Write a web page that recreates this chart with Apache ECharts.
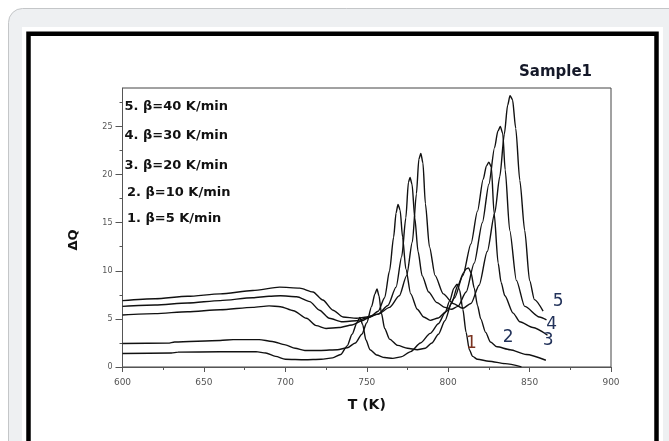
<!DOCTYPE html>
<html>
<head>
<meta charset="utf-8">
<script src="https://cdn.jsdelivr.net/npm/echarts@6/dist/echarts.min.js"></script>
<style>
  html, body { margin: 0; padding: 0; background: #fff; }
  #chart { width: 669px; height: 441px; }
</style>
</head>
<body>
<div id="chart"></div>
<script>
// ΔQ vs T (K) curves, [T, ΔQ]
const curve1 = [[600,1.4],[630,1.45],[634,1.55],[660,1.58],[682,1.6],[688,1.45],[694,1.1],[700,0.8],[712,0.75],[722,0.8],[729,0.95],[734,1.3],[738,2.2],[741,3.4],[744,4.6],[745.8,5.15],[747.5,4.4],[749.5,2.8],[752,1.8],[756,1.25],[761,0.98],[766,0.9],[771,1.05],[777,1.6],[783,2.5],[789,3.5],[794,4.5],[798,5.6],[801,6.9],[803.5,8.2],[805.5,8.6],[807,8.0],[809,6.0],[811,3.6],[813,1.8],[815,1.1],[818,0.8],[825,0.6],[835,0.35],[845,0.02]]
const curve2 = [[600,2.45],[628,2.48],[632,2.6],[660,2.75],[668,2.85],[684,2.85],[692,2.65],[700,2.3],[706,1.95],[712,1.72],[722,1.72],[732,1.8],[738,2.0],[743,2.5],[747,3.4],[750,4.6],[753,6.3],[755,7.6],[756.3,8.1],[757.5,7.4],[759,5.6],[761,4.0],[764,2.9],[769,2.25],[775,1.95],[781,1.8],[786,1.95],[790,2.5],[794,3.4],[798,4.8],[802,6.6],[806,8.5],[809.5,9.8],[811,10.2],[812.5,10.3],[814,9.8],[816,8.2],[818,6.4],[820,5.0],[823,3.6],[826,2.6],[830,2.1],[838,1.8],[848,1.3],[860,0.7]]
const curve3 = [[600,5.4],[620,5.55],[640,5.75],[660,5.95],[680,6.2],[690,6.35],[697,6.27],[705,5.85],[713,5.06],[719,4.3],[725,4.0],[733,4.1],[741,4.37],[747,4.8],[752,5.2],[757,5.8],[761,7.2],[764,10],[766.5,13.5],[768,16.0],[769.2,16.9],[770.5,16.3],[772,13.5],[774,10.2],[777,7.6],[781,6.0],[785,5.2],[789,4.85],[794,5.1],[799,5.8],[804,7.2],[809,9.5],[814,12.8],[818,16.2],[821.5,19.5],[823.5,20.9],[825,21.3],[826.5,20.8],[828.2,16],[830.7,10.8],[832.5,8.8],[834.8,7.4],[839.9,5.6],[844,4.7],[852,4.1],[861,3.3]]
const curve4 = [[600,6.3],[620,6.45],[640,6.65],[660,6.9],[680,7.2],[690,7.35],[697,7.4],[707,7.3],[715,6.8],[721,5.9],[727,5.06],[735,4.7],[743.7,4.8],[750,5.1],[757,5.5],[763,6.4],[768,8.3],[771.5,11.5],[774,15.5],[775.6,19.2],[776.6,19.7],[777.8,19.0],[779.5,15.5],[781.5,12],[784,9.5],[788,7.8],[793,6.7],[798,6.2],[802,6.0],[806,6.3],[811,7.8],[816,10.8],[821,15],[825,19],[828.5,22.8],[830.5,24.5],[832,25.0],[833.5,24.3],[835,20.5],[837.8,14.2],[841.9,9],[847,6.3],[856,5.2],[860.4,4.9]]
const curve5 = [[600,6.9],[620,7.1],[640,7.35],[660,7.6],[680,7.95],[696.5,8.3],[708.8,8.2],[717,7.8],[723,6.96],[729.3,5.9],[735.4,5.2],[743.7,5.06],[750,5.2],[757,5.5],[764,6.2],[770,7.4],[774.5,9.5],[778,13],[780.5,18],[782,21.6],[783.2,22.2],[784.5,21.2],[786,17],[788.5,12.5],[792,9.5],[797,7.6],[803,6.6],[809,6.1],[814,6.6],[819,8.5],[824,12],[828.6,16],[831.7,19.8],[834.5,24.2],[836.5,27.2],[838,28.2],[839.5,27.8],[841.5,24.8],[844,19.4],[847,14.2],[850,9.0],[853,7.0],[858.3,5.8]]

const curves = [curve1, curve2, curve3, curve4, curve5]
const curveNames = ['1', '2', '3', '4', '5']
// where each curve number sits, [T, ΔQ]
const curveLabelAt = [[814.3,2.4],[836.8,3.1],[861.4,2.7],[863.6,4.4],[867.5,6.8]]
const curveLabelColors = ['#7a3320', '#22325a', '#22325a', '#22325a', '#22325a']
const legendLines = ['5. β=40 K/min', '4. β=30 K/min', '3. β=20 K/min', '2. β=10 K/min', '1. β=5 K/min']
const yTicks = [0, 5, 10, 15, 20, 25]

const chart = echarts.init(document.getElementById('chart'))

const option = {
  animation: false,
  backgroundColor: '#fff',
  grid: {
    left: 122.5, right: 58, top: 88, bottom: 74,
    show: true, borderColor: '#444', borderWidth: 1, backgroundColor: 'transparent'
  },
  xAxis: {
    type: 'value', min: 600, max: 900, interval: 50,
    name: 'T (K)', nameLocation: 'middle', nameGap: 31,
    nameTextStyle: { fontFamily: 'DejaVu Sans', fontWeight: 'bold', fontSize: 14, color: '#111' },
    axisLine: { show: true, lineStyle: { color: '#555', width: 1 } },
    axisTick: { show: true, length: 5, lineStyle: { color: '#555' } },
    minorTick: { show: true, splitNumber: 2, length: 3, lineStyle: { color: '#555' } },
    splitLine: { show: false },
    axisLabel: { fontFamily: 'DejaVu Sans', fontSize: 9, color: '#555', margin: 11 }
  },
  yAxis: {
    type: 'value', min: 0, max: 29, interval: 5,
    axisLine: { show: true, lineStyle: { color: '#555', width: 1 } },
    axisTick: { show: true, length: 7, customValues: yTicks, lineStyle: { color: '#555' } },
    minorTick: { show: true, splitNumber: 2, length: 3, lineStyle: { color: '#555' } },
    splitLine: { show: false },
    axisLabel: { fontFamily: 'DejaVu Sans', fontSize: 8, color: '#555', margin: 10, customValues: yTicks }
  },
  graphic: [
    { type: 'rect', z: -20, silent: true, shape: { x: 8.5, y: 8.5, width: 700, height: 500, r: 14 },
      style: { fill: '#eef0f2', stroke: '#c4c6c8', lineWidth: 1 } },
    { type: 'rect', z: -19, silent: true, shape: { x: 22, y: 27, width: 641, height: 500 },
      style: { fill: '#fff' } },
    { type: 'rect', z: -18, silent: true, shape: { x: 28.5, y: 33.8, width: 628, height: 500 },
      style: { fill: '#fff', stroke: '#000', lineWidth: 4.5 } },
    { type: 'text', left: 519, top: 65,
      style: { text: 'Sample1', font: 'bold 15px "DejaVu Sans"', fill: '#141828' } },
    { type: 'text', x: 74, y: 240, rotation: Math.PI / 2,
      style: { text: 'ΔQ', font: 'bold 13px "DejaVu Sans"', fill: '#111', align: 'center', verticalAlign: 'middle' } }
  ].concat(legendLines.map((t, i) => ({
    type: 'text', x: i >= 3 ? 127 : 124.5, y: [106.5, 136, 166, 193, 218.5][i],
    style: { text: t, font: 'bold 13px "DejaVu Sans"', fill: '#111', verticalAlign: 'middle' }
  }))),
  series: curves.map((d, i) => ({
    name: curveNames[i],
    type: 'line',
    data: d,
    showSymbol: false,
    symbol: 'none',
    smooth: 0.25,
    smoothMonotone: 'x',
    lineStyle: { color: '#111', width: 1.4 },
    markPoint: {
      symbol: 'circle', symbolSize: 0, silent: true,
      label: {
        show: true, formatter: curveNames[i], position: 'inside',
        fontFamily: 'DejaVu Sans', fontSize: 17, color: curveLabelColors[i]
      },
      data: [{ coord: curveLabelAt[i] }]
    }
  }))
}

chart.setOption(option)
</script>
</body>
</html>
